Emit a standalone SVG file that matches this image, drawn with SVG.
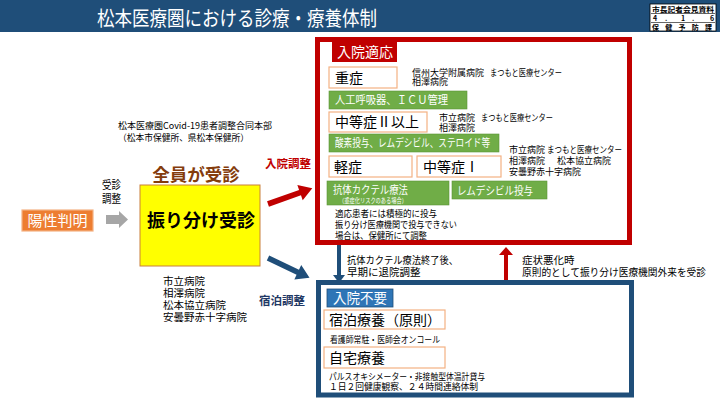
<svg xmlns="http://www.w3.org/2000/svg" width="720" height="405" viewBox="0 0 720 405">
<style>
text { font-family: "Noto Sans CJK JP", "Noto Sans", sans-serif; fill: #000; }
.wt { fill: #fff; }
.b { font-weight: bold; }
.lbox { fill: #fff; stroke: #f4b183; stroke-width: 1.2; }
.green { fill: #70ad47; stroke: #5d9438; stroke-width: 0.6; }
.s9 { font-size: 9px; }
.s95 { font-size: 9.5px; }
.s105 { font-size: 10.5px; }
.s14 { font-size: 14px; }
.stamp { font-family: "Noto Sans CJK JP", serif; font-weight: bold; font-size: 7px; }
</style>

<g id="header">
  <rect x="0" y="0" width="720" height="32" fill="#1f4e79"/>
  <text x="97" y="25.5" font-size="20" class="wt" textLength="280" lengthAdjust="spacingAndGlyphs">松本医療圏における診療・療養体制</text>
</g>

<g id="stamp">
  <rect x="650" y="4" width="66" height="27" fill="#fff" stroke="#000" stroke-width="0.8"/>
  <line x1="651" y1="13.5" x2="715" y2="13.5" stroke="#000" stroke-width="0.6"/>
  <line x1="651" y1="22.5" x2="715" y2="22.5" stroke="#000" stroke-width="0.6"/>
  <text class="stamp"><tspan x="652" y="11.5" textLength="62" lengthAdjust="spacingAndGlyphs">市長記者会見資料</tspan><tspan x="653" y="20.5">4</tspan><tspan x="665" y="20.5">.</tspan><tspan x="681" y="20.5">1</tspan><tspan x="692" y="20.5">.</tspan><tspan x="710" y="20.5">6</tspan><tspan x="652" y="29.5" textLength="60" lengthAdjust="spacing">保健予防課</tspan></text>
</g>

<g id="honbu">
  <text class="s9"><tspan x="118" y="128.5">松本医療圏Covid-19患者調整合同本部</tspan><tspan x="118" y="140.5" textLength="131" lengthAdjust="spacingAndGlyphs">（松本市保健所、県松本保健所）</tspan></text>
</g>

<g id="yousei">
  <rect x="22" y="210" width="71" height="21" fill="#ed7d31" stroke="#f4b183" stroke-width="1.2"/>
  <text x="57.5" y="226" font-size="15" class="wt" text-anchor="middle">陽性判明</text>
</g>

<g id="jushin-chousei-label">
  <text font-size="11"><tspan x="102" y="188.5" textLength="19" lengthAdjust="spacingAndGlyphs">受診</tspan><tspan x="102" y="202.5" textLength="19" lengthAdjust="spacingAndGlyphs">調整</tspan></text>
</g>

<g id="furiwake">
  <text x="196" y="181" font-size="17.5" font-weight="700" style="fill:#843c0c" text-anchor="middle">全員が受診</text>
  <rect x="140" y="185" width="120" height="81" fill="#ffff00" stroke="#c9803c" stroke-width="1"/>
  <text x="201" y="227" font-size="18" font-weight="700" text-anchor="middle">振り分け受診</text>
  <text class="s105"><tspan x="163" y="285">市立病院</tspan><tspan x="163" y="297">相澤病院</tspan><tspan x="163" y="308.5">松本協立病院</tspan><tspan x="163" y="320.5">安曇野赤十字病院</tspan></text>
</g>

<g id="connectors">
  <polygon points="106,215 119,215 119,211 128,219.5 119,228 119,224 106,224" fill="#a6a6a6"/>
  <polygon points="0,-2.8 34,-2.8 34,-8 47,0 34,8 34,2.8 0,2.8" fill="#c00000" transform="translate(268,204) rotate(-19.6)"/>
  <polygon points="0,-2.8 33,-2.8 33,-8 46,0 33,8 33,2.8 0,2.8" fill="#1f4e79" transform="translate(268,258) rotate(25.5)"/>
  <polygon points="337,245 341,245 341,275 345,275 339,283 333,275 337,275" fill="#1f4e79"/>
  <polygon points="504,280 508,280 508,255 513,255 506,247 499,255 504,255" fill="#c00000"/>
  <text x="265" y="167.5" font-size="11.5" font-weight="700" style="fill:#c00000">入院調整</text>
  <text x="259" y="304.5" font-size="11.5" font-weight="700" style="fill:#1f3864">宿泊調整</text>
  <text class="s105"><tspan x="347" y="263.5" textLength="111" lengthAdjust="spacingAndGlyphs">抗体カクテル療法終了後、</tspan><tspan x="347" y="275.5">早期に退院調整</tspan></text>
  <text class="s105"><tspan x="522" y="263.5">症状悪化時</tspan><tspan x="522" y="275.5" textLength="184" lengthAdjust="spacingAndGlyphs">原則的として振り分け医療機関外来を受診</tspan></text>
</g>

<g id="nyuin-tekiou">
  <rect x="317.5" y="39.5" width="312" height="203" fill="#fff" stroke="#c00000" stroke-width="5"/>
  <rect x="332" y="42" width="65" height="20" fill="#c00000"/>
  <text x="337" y="57" class="s14 wt">入院適応</text>
</g>

<g id="jusho">
  <rect x="329" y="67" width="68" height="21" class="lbox"/>
  <text x="335" y="83" class="s14">重症</text>
  <text class="s9"><tspan x="412" y="75.5">信州大学附属病院</tspan><tspan x="490" y="75.5" textLength="72" lengthAdjust="spacingAndGlyphs">まつもと医療センター</tspan><tspan x="412" y="85">相澤病院</tspan></text>
  <rect x="329" y="91" width="138" height="18" class="green"/>
  <text x="335" y="104" font-size="11" class="wt" textLength="113" lengthAdjust="spacingAndGlyphs">人工呼吸器、ＩＣＵ管理</text>
</g>

<g id="chutoushou2">
  <rect x="329" y="112" width="98" height="20" class="lbox"/>
  <text x="335" y="127" class="s14">中等症Ⅱ以上</text>
  <text class="s9"><tspan x="439" y="120.5">市立病院</tspan><tspan x="481" y="120.5" textLength="72" lengthAdjust="spacingAndGlyphs">まつもと医療センター</tspan><tspan x="439" y="130.5">相澤病院</tspan></text>
  <rect x="329" y="134" width="170" height="18" class="green"/>
  <text x="335" y="147" font-size="11" class="wt" textLength="155" lengthAdjust="spacingAndGlyphs">酸素投与、レムデシビル、ステロイド等</text>
</g>

<g id="keishou">
  <rect x="329" y="156" width="83" height="21" class="lbox"/>
  <text x="334" y="171.5" class="s14">軽症</text>
  <rect x="327" y="181" width="122" height="24" class="green"/>
  <text class="wt"><tspan x="333" y="194" font-size="11" textLength="75" lengthAdjust="spacingAndGlyphs">抗体カクテル療法</tspan><tspan x="339" y="203" font-size="6.5" textLength="68" lengthAdjust="spacingAndGlyphs">（重症化リスクのある場合）</tspan></text>
  <text class="s95"><tspan x="335" y="217" textLength="102" lengthAdjust="spacingAndGlyphs">適応患者には積極的に投与</tspan><tspan x="335" y="228" textLength="122" lengthAdjust="spacingAndGlyphs">振り分け医療機関で投与できない</tspan><tspan x="335" y="239" textLength="92" lengthAdjust="spacingAndGlyphs">場合は、保健所にて調整</tspan></text>
</g>

<g id="chutoushou1">
  <rect x="417" y="156" width="84" height="21" class="lbox"/>
  <text x="423" y="171.5" class="s14">中等症Ⅰ</text>
  <rect x="452" y="181" width="95" height="18" class="green"/>
  <text x="457" y="194.5" font-size="11.5" class="wt" textLength="76" lengthAdjust="spacingAndGlyphs">レムデシビル投与</text>
  <text class="s9"><tspan x="509" y="152.5">市立病院</tspan><tspan x="547" y="152.5" textLength="75" lengthAdjust="spacingAndGlyphs">まつもと医療センター</tspan><tspan x="509" y="164">相澤病院</tspan><tspan x="557" y="164">松本協立病院</tspan><tspan x="509" y="174.5">安曇野赤十字病院</tspan></text>
</g>

<g id="nyuin-fuyou">
  <rect x="318.5" y="282.5" width="313" height="112.5" fill="#fff" stroke="#1f4e79" stroke-width="5"/>
  <rect x="327" y="289" width="66" height="18" fill="#2e75b6" stroke="#1f4e79" stroke-width="0.8"/>
  <text x="333" y="303" font-size="13.5" class="wt">入院不要</text>
</g>

<g id="shukuhaku">
  <rect x="324" y="310" width="121" height="19" class="lbox"/>
  <text x="329" y="324.5" class="s14">宿泊療養（原則）</text>
  <text x="330" y="343" class="s9" textLength="110" lengthAdjust="spacingAndGlyphs">看護師常駐・医師会オンコール</text>
</g>

<g id="jitaku">
  <rect x="324" y="347" width="121" height="21" class="lbox"/>
  <text x="329" y="362.5" class="s14">自宅療養</text>
  <text class="s9"><tspan x="329" y="379.5" textLength="156" lengthAdjust="spacingAndGlyphs">パルスオキシメーター・非接触型体温計貸与</tspan><tspan x="329" y="389.5" textLength="149" lengthAdjust="spacingAndGlyphs">１日２回健康観察、２４時間連絡体制</tspan></text>
</g>
</svg>
